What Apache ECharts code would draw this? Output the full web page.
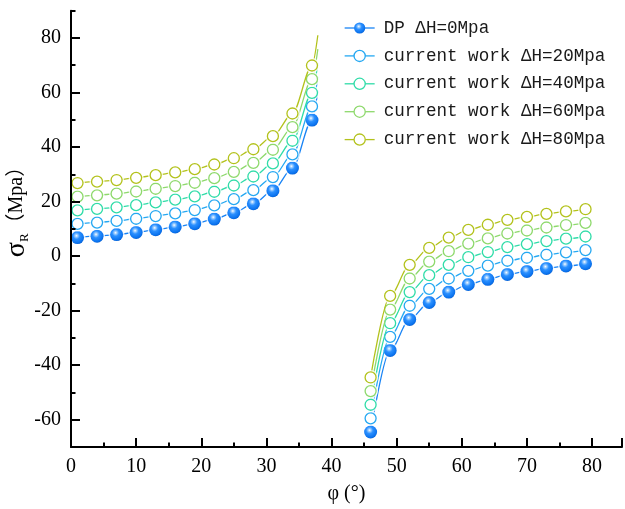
<!DOCTYPE html>
<html><head><meta charset="utf-8">
<script src="https://cdn.jsdelivr.net/npm/echarts@6/dist/echarts.min.js"></script>
<style>html,body{margin:0;padding:0;background:#fff}#c{width:625px;height:509px}</style>
</head><body><div id="c"></div>
<script>
// ---- data ----
const xLeft  = [1, 4, 7, 10, 13, 16, 19, 22, 25, 28, 31, 34, 37];
const xRight = [46, 49, 52, 55, 58, 61, 64, 67, 70, 73, 76, 79];
const xLineEnd = 37.9;

const seriesNames = ['DP ΔH=0Mpa', 'current work ΔH=20Mpa', 'current work ΔH=40Mpa',
                     'current work ΔH=60Mpa', 'current work ΔH=80Mpa'];

const dpLeft   = [6.8, 7.3, 7.9, 8.7, 9.7, 10.7, 11.9, 13.6, 15.9, 19.2, 24.0, 32.3, 49.9];
const dpRight  = [-64.5, -34.6, -23.2, -17.0, -13.2, -10.4, -8.5, -6.7, -5.6, -4.5, -3.6, -2.8];
const dpEnd    = 60.7;

const cw20Left  = [11.8, 12.3, 12.9, 13.7, 14.7, 15.7, 16.9, 18.6, 20.9, 24.2, 29.0, 37.3, 54.9];
const cw20Right = [-59.5, -29.6, -18.2, -12.0, -8.2, -5.4, -3.5, -1.7, -0.6, 0.5, 1.4, 2.2];
const cw20End   = 65.7;

const cw40Left  = [16.8, 17.3, 17.9, 18.7, 19.7, 20.7, 21.9, 23.6, 25.9, 29.2, 34.0, 42.3, 59.9];
const cw40Right = [-54.5, -24.6, -13.2, -7.0, -3.2, -0.4, 1.5, 3.3, 4.4, 5.5, 6.4, 7.2];
const cw40End   = 70.8;

const cw60Left  = [21.8, 22.3, 22.9, 23.7, 24.7, 25.7, 26.9, 28.6, 30.9, 34.2, 39.0, 47.3, 64.9];
const cw60Right = [-49.5, -19.6, -8.2, -2.0, 1.8, 4.6, 6.5, 8.3, 9.4, 10.5, 11.4, 12.2];
const cw60End   = 75.9;

const cw80Left  = [26.8, 27.3, 27.9, 28.7, 29.7, 30.7, 31.9, 33.6, 35.9, 39.2, 44.0, 52.3, 69.9];
const cw80Right = [-44.5, -14.6, -3.2, 3.0, 6.8, 9.6, 11.5, 13.3, 14.4, 15.5, 16.4, 17.2];
const cw80End   = 81.0;

const xTickLabels = [0, 10, 20, 30, 40, 50, 60, 70, 80];
const yTickLabels = [-60, -40, -20, 0, 20, 40, 60, 80];
const yMinorTicks = [-50, -30, -10, 10, 30, 50, 70, 90];

// ---- styling ----
const colors = ['#1a84f5', '#25a8f2', '#2fdca8', '#8ed96c', '#b3c21c'];
const allLeft  = [dpLeft, cw20Left, cw40Left, cw60Left, cw80Left];
const allRight = [dpRight, cw20Right, cw40Right, cw60Right, cw80Right];
const allEnd   = [dpEnd, cw20End, cw40End, cw60End, cw80End];

const sphere = {
  type: 'radial', x: 0.42, y: 0.36, r: 0.66,
  colorStops: [
    {offset: 0, color: '#ffffff'},
    {offset: 0.14, color: '#a6d2ff'},
    {offset: 0.4, color: '#2b90ff'},
    {offset: 0.85, color: '#0a72ee'},
    {offset: 1, color: '#075fd0'}
  ]
};

const series = [];
seriesNames.forEach((name, k) => {
  const c = colors[k];
  const base = 10 + k * 5;
  const leftLine = xLeft.map((x, i) => [x, allLeft[k][i]]).concat([[xLineEnd, allEnd[k]]]);
  const rightLine = xRight.map((x, i) => [x, allRight[k][i]]);
  const markPts = xLeft.map((x, i) => [x, allLeft[k][i]]).concat(rightLine);
  [leftLine, rightLine].forEach(d => series.push({
    type: 'line', data: d, showSymbol: false, smooth: 0.3, smoothMonotone: 'x',
    lineStyle: {color: c, width: 1.3}, z: base, silent: true, animation: false
  }));
  series.push({
    type: 'scatter', data: markPts, symbol: 'circle', symbolSize: k === 0 ? 16 : 15,
    itemStyle: {color: '#ffffff'}, z: base + 1, silent: true, animation: false
  });
  series.push({
    name: name, type: 'line', data: markPts, symbol: 'circle',
    symbolSize: k === 0 ? 13 : 11,
    lineStyle: {width: 0, color: c},
    itemStyle: k === 0 ? {color: sphere, borderWidth: 0, borderColor: c}
                       : {color: '#ffffff', borderColor: c, borderWidth: 1.3},
    z: base + 2, animation: false
  });
});

const serif = 'Liberation Serif';
const chart = echarts.init(document.getElementById('c'), null, {renderer: 'canvas'});
chart.setOption({
  backgroundColor: '#ffffff',
  animation: false,
  grid: {left: 71, right: 0, top: 10.7, bottom: 57, containLabel: false},
  legend: {
    orient: 'vertical', left: 339, top: 14, itemWidth: 30, itemHeight: 14, itemGap: 9.9,
    data: seriesNames.map((n, k) => ({
      name: n,
      itemStyle: k === 0 ? {borderWidth: 0} : {borderWidth: 1.3},
      lineStyle: {width: 1.3, color: colors[k]}
    })),
    textStyle: {fontFamily: 'Liberation Mono', fontSize: 17.6, color: '#1a1a1a', lineHeight: 18, padding: [0, 0, 0, 4]},
    selectedMode: false
  },
  xAxis: {
    type: 'value', min: 0, max: 84.6, interval: 10, z: 100,
    name: 'φ (°)', nameLocation: 'middle', nameGap: 37,
    nameTextStyle: {fontFamily: serif, fontSize: 20, color: '#000'},
    axisLine: {show: true, onZero: false, lineStyle: {color: '#000', width: 2}},
    axisTick: {show: true, inside: true, length: 9, lineStyle: {color: '#000', width: 2}},
    minorTick: {show: true, splitNumber: 2, length: 4.5, lineStyle: {color: '#000', width: 2}},
    axisLabel: {fontFamily: serif, fontSize: 20, color: '#000', margin: 10,
      formatter: v => (xTickLabels.indexOf(v) >= 0 ? String(v) : '')},
    splitLine: {show: false}
  },
  yAxis: [{
    type: 'value', min: -70, max: 90, z: 100,
    axisLine: {show: true, onZero: false, lineStyle: {color: '#000', width: 2}},
    axisTick: {show: true, inside: true, length: 9, customValues: yTickLabels, lineStyle: {color: '#000', width: 2}},
    axisLabel: {fontFamily: serif, fontSize: 20, color: '#000', margin: 10, customValues: yTickLabels},
    splitLine: {show: false}
  }, {
    type: 'value', min: -70, max: 90, z: 100, position: 'left', offset: 0,
    axisLine: {show: false},
    axisTick: {show: true, inside: true, length: 4.5, customValues: yMinorTicks, lineStyle: {color: '#000', width: 2}},
    axisLabel: {show: false},
    splitLine: {show: false}
  }],
  graphic: [{
    type: 'text', x: 17, y: 207, rotation: Math.PI / 2, z: 100,
    style: {
      text: '{s|σ}{r|R}{t|（Mpa）}', align: 'center', verticalAlign: 'middle',
      rich: {
        s: {fontFamily: serif, fontSize: 28, fill: '#000', verticalAlign: 'middle'},
        r: {fontFamily: serif, fontSize: 13, fill: '#000', verticalAlign: 'bottom'},
        t: {fontFamily: serif + ', Noto Sans CJK SC', fontSize: 20, fill: '#000', verticalAlign: 'middle'}
      }
    }
  }],
  series: series
});
</script></body></html>
